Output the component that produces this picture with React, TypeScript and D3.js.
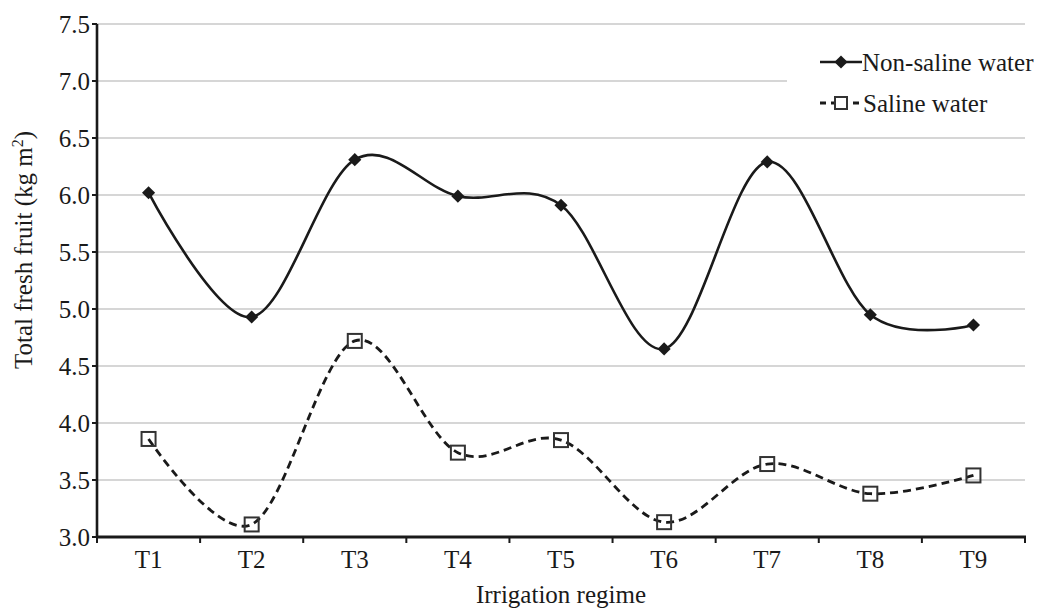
import React from 'react';
import * as d3 from 'd3';

const regimes = ['T1', 'T2', 'T3', 'T4', 'T5', 'T6', 'T7', 'T8', 'T9'];
const nonSaline = [6.02, 4.93, 6.31, 5.99, 5.91, 4.65, 6.29, 4.95, 4.86];
const saline = [3.86, 3.11, 4.72, 3.74, 3.85, 3.13, 3.64, 3.38, 3.54];
const yTicks = [3.0, 3.5, 4.0, 4.5, 5.0, 5.5, 6.0, 6.5, 7.0, 7.5];

const W = 1046;
const H = 610;
const FONT = "'Liberation Serif', 'Times New Roman', serif";
const INK = '#1a1a1a';

const App = () => {
    const x = d3.scaleBand().domain(regimes).range([97, 1025]);
    const y = d3.scaleLinear().domain([3, 7.5]).range([537, 24]);
    const cx = (c: string) => (x(c) as number) + x.bandwidth() / 2;

    // smooth line like the spreadsheet "smoothed line" option
    const line = d3.line<number>()
        .x((d, i) => cx(regimes[i]))
        .y(d => y(d))
        .curve(d3.curveCardinal.tension(0));

    const diamond = d3.symbol().type(d3.symbolDiamond2).size(110)();
    const bounds = [...regimes.map(c => x(c) as number), x.range()[1]];
    const txt = { fontFamily: FONT, fontSize: 25, fill: INK };

    return (
        <svg width={W} height={H} style={{ position: 'absolute', left: 0, top: 0, background: '#fff', fontFamily: FONT }}>
            {/* gridlines */}
            {yTicks.slice(1).map(t => (
                <line key={t} x1={97} x2={1025} y1={y(t)} y2={y(t)} stroke="#c9c9c9" strokeWidth={1.6} />
            ))}

            {/* legend background hides grid under it */}
            <rect x={787} y={42} width={W - 787} height={86} fill="#fff" />

            {/* series */}
            <path d={line(nonSaline) as string} fill="none" stroke={INK} strokeWidth={2.6} />
            <path d={line(saline) as string} fill="none" stroke={INK} strokeWidth={2.8} strokeDasharray="8,5" />
            {nonSaline.map((v, i) => (
                <path key={'n' + i} d={diamond as string} transform={`translate(${cx(regimes[i])},${y(v)})`} fill={INK} />
            ))}
            {saline.map((v, i) => (
                <rect key={'s' + i} x={cx(regimes[i]) - 7} y={y(v) - 7} width={14} height={14}
                    fill="none" stroke="#333" strokeWidth={2} />
            ))}

            {/* y axis */}
            <line x1={97} x2={97} y1={y(7.5)} y2={y(3) + 1} stroke={INK} strokeWidth={2.6} />
            {yTicks.map(t => (
                <g key={t}>
                    <line x1={92} x2={97} y1={y(t)} y2={y(t)} stroke={INK} strokeWidth={2} />
                    <text x={90} y={y(t)} dy="0.35em" textAnchor="end" style={txt}>{t.toFixed(1)}</text>
                </g>
            ))}

            {/* x axis */}
            <line x1={96} x2={1026} y1={y(3)} y2={y(3)} stroke={INK} strokeWidth={2.8} />
            {bounds.map((b, i) => (
                <line key={i} x1={b} x2={b} y1={y(3)} y2={y(3) + 6} stroke={INK} strokeWidth={2} />
            ))}
            {regimes.map(c => (
                <text key={c} x={cx(c)} y={568} textAnchor="middle" style={txt}>{c}</text>
            ))}

            {/* axis titles */}
            <text x={561} y={603} textAnchor="middle" style={txt}>Irrigation regime</text>
            <text transform="translate(32,250) rotate(-90)" textAnchor="middle" style={txt}>
                Total fresh fruit (kg m<tspan dy={-9} style={{ fontSize: 16 }}>2</tspan><tspan dy={9}>)</tspan>
            </text>

            {/* legend */}
            <line x1={820} x2={862} y1={62} y2={62} stroke={INK} strokeWidth={2.6} />
            <path d={diamond as string} transform="translate(841,62)" fill={INK} />
            <text x={862} y={62} dy="0.35em" style={txt}>Non-saline water</text>
            <line x1={820} x2={862} y1={103} y2={103} stroke={INK} strokeWidth={2.8} strokeDasharray="6,5" />
            <rect x={835} y={97} width={12} height={12} fill="#fff" stroke="#333" strokeWidth={2} />
            <text x={863} y={103} dy="0.35em" style={txt}>Saline water</text>
        </svg>
    );
};

export default App;
